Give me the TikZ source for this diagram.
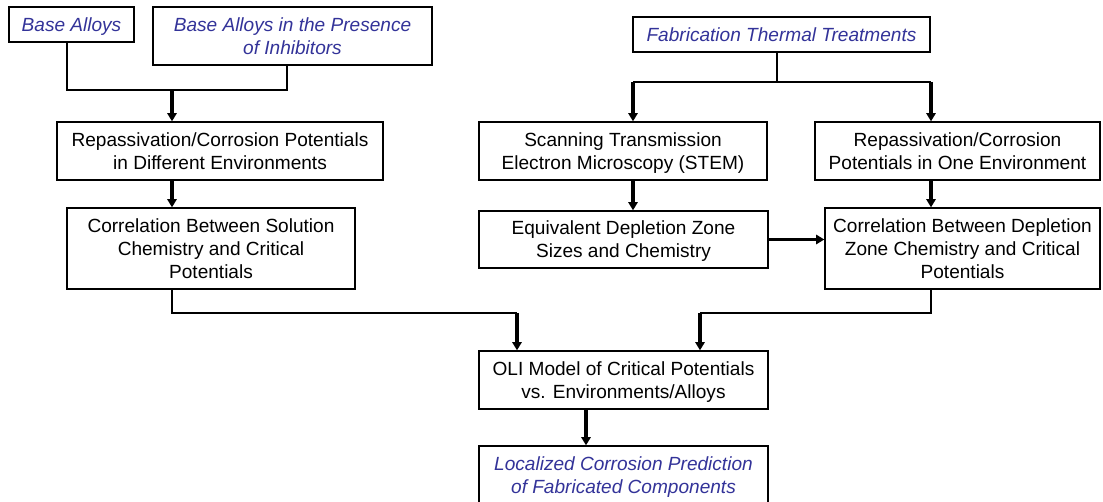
\documentclass[tikz,border=0pt]{standalone}
\usepackage{fontspec}
\setmainfont{Liberation Sans}
\usetikzlibrary{arrows.meta}
\definecolor{titleblue}{RGB}{51,51,153}
\tikzset{
  box/.style 2 args={draw, line width=1pt, inner sep=0pt, align=center,
    minimum width=#1*0.75pt, minimum height=#2*0.75pt,
    font=\fontsize{14.3}{17.2}\selectfont, text depth=-2pt},
  source/.style={text=titleblue, font=\fontsize{14.3}{17.2}\selectfont\itshape},
  link/.style={line width=0.9pt},
  flow/.style={line width=2.3pt, -{Triangle[length=6.2pt,width=7pt]}}
}
\begin{document}
\begin{tikzpicture}[x=0.75pt, y=-0.75pt]
\fill[white] (0,0) rectangle (1103,502);
\useasboundingbox (0,0) rectangle (1103,502);

% inputs
\node[box={125}{35}, source] (base) at (71.5,24.5) {Base Alloys};
\node[box={279}{58}, source] (inhib) at (292.5,36) {Base Alloys in the Presence\\of Inhibitors};
\node[box={297}{35}, source] (fab) at (781.5,34.5) {Fabrication Thermal Treatments};

% measurements
\node[box={326}{58}] (repL) at (220,151) {Repassivation/Corrosion Potentials\\in Different Environments};
\node[box={288}{58}] (stem) at (623,151) {Scanning Transmission\\Electron Microscopy (STEM)};
\node[box={285}{58}] (repR) at (957.5,151) {Repassivation/Corrosion\\Potentials in One Environment};

% correlations
\node[box={288}{81}] (corrL) at (211,248.5) {Correlation Between Solution\\Chemistry and Critical\\Potentials};
\node[box={289}{57}] (equiv) at (623.5,239.5) {Equivalent Depletion Zone\\Sizes and Chemistry};
\node[box={275}{81}] (corrR) at (962.5,248.5) {Correlation Between Depletion\\Zone Chemistry and Critical\\Potentials};

% model and result
\node[box={289}{58}] (oli) at (623.5,380) {OLI Model of Critical Potentials\\vs. Environments/Alloys};
\node[box={289}{58}, source] (loc) at (623.5,475) {Localized Corrosion Prediction\\of Fabricated Components};

% junction points
\coordinate (bA) at (67,90);
\coordinate (bB) at (287,90);
\coordinate (m1) at (172,90);
\coordinate (f0) at (777,82);
\coordinate (fL) at (633,82);
\coordinate (fR) at (931,82);
\coordinate (l1) at (172,313);
\coordinate (l2) at (517,313);
\coordinate (r1) at (931,313);
\coordinate (r2) at (700,313);
\coordinate (k) at (586,430);

% top-left merge
\draw[link] (base.south -| bA) -- (bA) -- (bB) -- (inhib.south -| bB);
\draw[flow] (m1) -- (repL.north -| m1);

% fabrication split
\draw[link] (fab.south -| f0) -- (f0);
\draw[link] (fL) -- (fR);
\draw[flow] (fL) -- (stem.north -| fL);
\draw[flow] (fR) -- (repR.north -| fR);

% vertical chains
\draw[flow] (repL.south -| m1) -- (corrL.north -| m1);
\draw[flow] (stem.south -| fL) -- (equiv.north -| fL);
\draw[flow] (repR.south -| fR) -- (corrR.north -| fR);
\draw[flow] (equiv.east) -- (corrR.west |- equiv.east);

% into the model
\draw[link] (corrL.south -| l1) -- (l1) -- (l2);
\draw[flow] (l2) -- (oli.north -| l2);
\draw[link] (corrR.south -| r1) -- (r1) -- (r2);
\draw[flow] (r2) -- (oli.north -| r2);
\draw[flow] (oli.south -| k) -- (loc.north -| k);
\end{tikzpicture}
\end{document}
